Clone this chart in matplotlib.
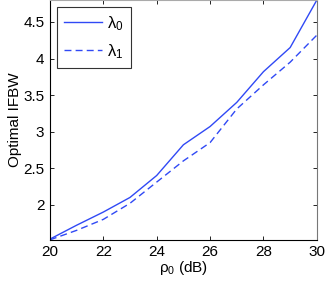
import numpy as np
import matplotlib
matplotlib.use('Agg')
import matplotlib.pyplot as plt

# SNR points (dB)
rho0 = [20, 21, 22, 23, 24, 25, 26, 27, 28, 29, 30]
# optimal IFBW for each hypothesis
ifbw_lam0 = [1.53, 1.72, 1.90, 2.10, 2.40, 2.82, 3.07, 3.40, 3.82, 4.15, 4.80]
ifbw_lam1 = [1.52, 1.65, 1.80, 2.02, 2.31, 2.60, 2.85, 3.31, 3.64, 3.95, 4.32]

plt.rcParams['font.family'] = ['Liberation Sans', 'DejaVu Sans']
plt.rcParams['mathtext.fontset'] = 'custom'
plt.rcParams['mathtext.rm'] = 'Liberation Sans'
plt.rcParams['mathtext.it'] = 'Liberation Sans'

fig = plt.figure(figsize=(3.26, 2.89), dpi=100)
ax = fig.add_axes([0.153, 0.170, 0.819, 0.830])

color = '#3049f5'
ax.plot(rho0, ifbw_lam0, '-', color=color, lw=1.0, label=r'$\lambda_0$')
ax.plot(rho0, ifbw_lam1, '--', color=color, lw=1.0, dashes=(5, 3), label=r'$\lambda_1$')

ax.set_xlim(20, 30)
ax.set_ylim(1.52, 4.8)
ax.set_xticks([20, 22, 24, 26, 28, 30])
ax.set_yticks([2, 2.5, 3, 3.5, 4, 4.5])
ax.set_yticklabels(['2', '2.5', '3', '3.5', '4', '4.5'])
ax.tick_params(direction='in', length=3, labelsize=11, width=0.6, pad=4)
ax.tick_params(top=True, right=True)
for s in ax.spines.values():
    s.set_linewidth(0.8)
ax.spines['right'].set_color('#777777')
ax.spines['top'].set_color('#aaaaaa')

ax.set_xlabel(r'$\rho_0$ (dB)', fontsize=11, labelpad=0)
ax.set_ylabel('Optimal IFBW', fontsize=11, labelpad=1)

leg = ax.legend(loc='upper left', fontsize=12, frameon=True, fancybox=False,
                edgecolor='black', handlelength=2.3, handletextpad=0.3,
                borderaxespad=0.4, labelspacing=0.55, borderpad=0.45)
leg.get_frame().set_linewidth(0.8)

fig.savefig('out.png', dpi=100)
